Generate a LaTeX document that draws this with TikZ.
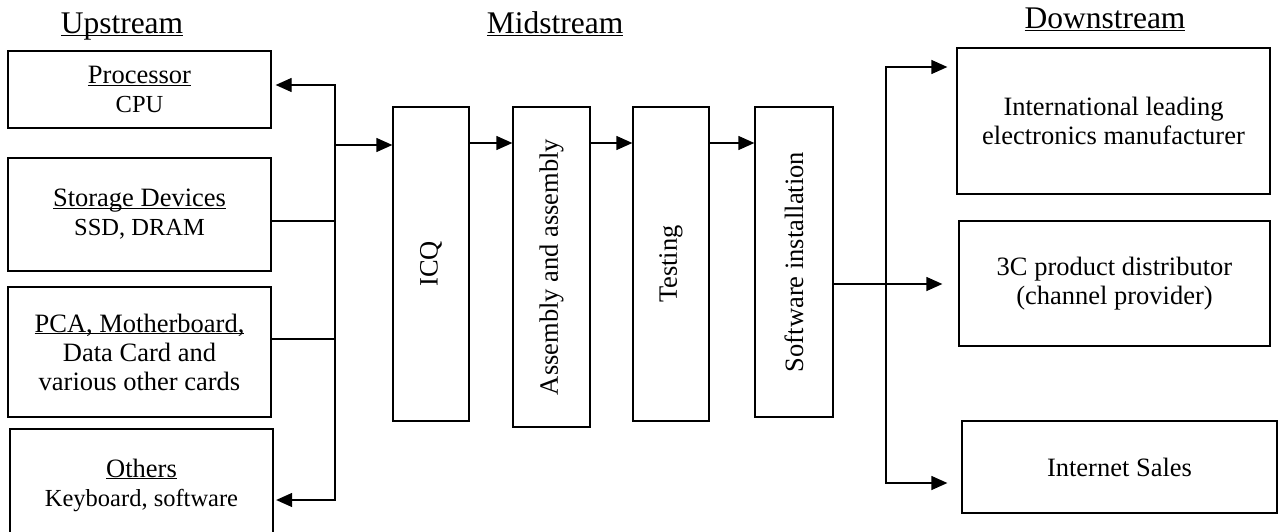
\documentclass[tikz,border=0pt]{standalone}
\usepackage{fontspec}
\setmainfont{Liberation Serif}
\usepackage{graphicx}
\usetikzlibrary{arrows.meta}
\begin{document}
\begin{tikzpicture}[x=1pt,y=-1pt,
  box/.style={draw,line width=1.3pt,inner sep=0pt,align=center,font=\fontsize{26.5}{29}\selectfont},
  vbox/.style={draw,line width=1.3pt,inner sep=0pt,font=\fontsize{26.5}{29}\selectfont},
  head/.style={anchor=base,inner sep=0pt,font=\fontsize{31.5}{34}\selectfont},
  conn/.style={line width=1.3pt},
  arr/.style={conn,-{Triangle[length=16pt,width=14pt]}},
  darr/.style={conn,{Triangle[length=16pt,width=14pt]}-{Triangle[length=16pt,width=14pt]}}
]
\useasboundingbox (0,0) rectangle (1279,532);
\newcommand{\sm}{\fontsize{24.5}{29}\selectfont}
% headings
\node[head] (hup) at (122,34) {\underbar{Upstream}};
\node[head] (hmid) at (555,34) {\underbar{Midstream}};
\node[head] (hdown) at (1105,29) {\underbar{Downstream}};
% upstream boxes
\node[box,minimum width=263,minimum height=77] (proc) at (139.5,89.5) {\underbar{Processor}\\{\sm CPU}};
\node[box,minimum width=263,minimum height=113] (stor) at (139.5,214.5) {\underbar{Storage Devices}\\{\sm SSD, DRAM}};
\node[box,minimum width=263,minimum height=130] (pca) at (139.5,352) {\underbar{PCA, Motherboard,}\\Data Card and\\various other cards};
\node[box,minimum width=263,minimum height=112] (oth) at (141.5,485) {\underbar{Others}\\{\sm Keyboard, software}};
% midstream boxes
\node[vbox,minimum width=76,minimum height=314] (icq) at (431,264) {\rotatebox{90}{ICQ}};
\node[vbox,minimum width=77,minimum height=320] (asm) at (551.5,267) {\rotatebox{90}{Assembly and assembly}};
\node[vbox,minimum width=76,minimum height=314] (tst) at (671,264) {\rotatebox{90}{Testing}};
\node[vbox,minimum width=78,minimum height=310] (sw) at (794,262) {\rotatebox{90}{Software installation}};
% downstream boxes
\node[box,minimum width=313,minimum height=146] (intl) at (1113.5,121) {International leading\\electronics manufacturer};
\node[box,minimum width=311,minimum height=125] (dist) at (1114.5,283.5) {3C product distributor\\(channel provider)};
\node[box,minimum width=315,minimum height=92] (net) at (1119.5,467) {Internet Sales};
% upstream bus
\coordinate (bt) at (335,85);
\coordinate (bb) at (335,500);
\coordinate (bi) at (335,145);
\coordinate (bs) at (335,221);
\coordinate (bp) at (335,339);
\draw[darr,shorten <=4pt,shorten >=2.5pt] (proc.east |- bt) -- (bt) -- (bb) -- (oth.east |- bb);
\draw[conn] (stor.east |- bs) -- (bs);
\draw[conn] (pca.east |- bp) -- (bp);
\draw[arr] (bi) -- (icq.west |- bi);
% midstream arrows
\coordinate (ya) at (0,143);
\draw[arr] (icq.east |- ya) -- (asm.west |- ya);
\draw[arr] (asm.east |- ya) -- (tst.west |- ya);
\draw[arr] (tst.east |- ya) -- (sw.west |- ya);
% downstream
\coordinate (ds) at (886,284);
\coordinate (dt) at (886,67);
\coordinate (db) at (886,483);
\draw[arr,shorten >=16pt] (sw.east |- ds) -- (dist.west |- ds);
\draw[arr,shorten >=9pt] (db) -- (dt) -- (intl.west |- dt);
\draw[arr,shorten >=14pt] (dt) -- (db) -- (net.west |- db);
\end{tikzpicture}
\end{document}
